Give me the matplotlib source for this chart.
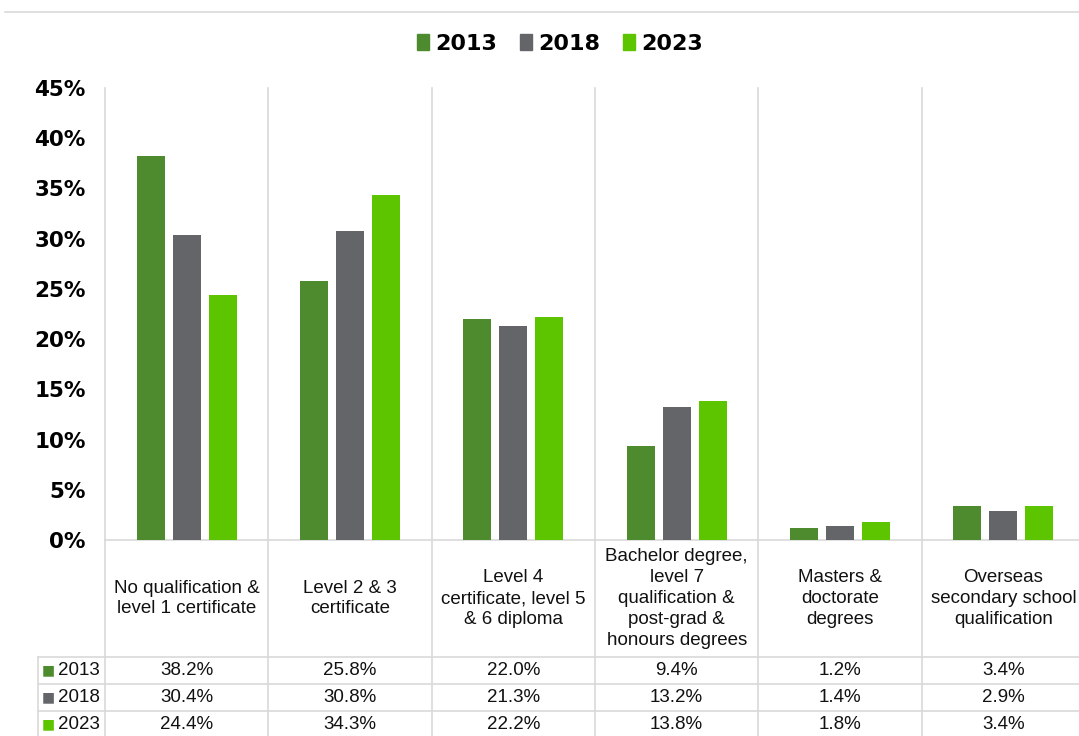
import matplotlib.pyplot as plt
from matplotlib.patches import Patch
from matplotlib.lines import Line2D
import matplotlib.transforms as mtransforms

# data
categories = [
    "No qualification &\nlevel 1 certificate",
    "Level 2 & 3\ncertificate",
    "Level 4\ncertificate, level 5\n& 6 diploma",
    "Bachelor degree,\nlevel 7\nqualification &\npost-grad &\nhonours degrees",
    "Masters &\ndoctorate\ndegrees",
    "Overseas\nsecondary school\nqualification",
]
years = ["2013", "2018", "2023"]
v2013 = [38.2, 25.8, 22.0, 9.4, 1.2, 3.4]
v2018 = [30.4, 30.8, 21.3, 13.2, 1.4, 2.9]
v2023 = [24.4, 34.3, 22.2, 13.8, 1.8, 3.4]
yticks = [0, 5, 10, 15, 20, 25, 30, 35, 40, 45]

colors = ["#4e8b2f", "#636569", "#5dc500"]
grid_c = "#d9d9d9"
narrow = ["Liberation Sans Narrow", "DejaVu Sans Condensed", "DejaVu Sans"]
plain = ["Liberation Sans", "DejaVu Sans"]

fig = plt.figure(figsize=(10.79, 7.36), dpi=100)
# axes: 0% at y=540px, 45% at y=88px, cells 163.4px wide from x=105px
ax = fig.add_axes([105 / 1079, (736 - 540) / 736, 980 / 1079, 452 / 736])

series = [v2013, v2018, v2023]
w = 0.171
step = 0.22
x = list(range(len(categories)))
for k, vals in enumerate(series):
    ax.bar([i + (k - 1) * step for i in x], [v / 100 for v in vals], width=w,
           color=colors[k], zorder=3)

ax.set_xlim(-0.5, 5.5)
ax.set_ylim(0, 0.45)
ax.set_yticks([t / 100 for t in yticks])
ax.set_yticklabels([f"{t}%" for t in yticks], family=narrow, fontweight="bold",
                   fontsize=15.5)
ax.tick_params(axis="y", length=0, pad=14)
ax.set_xticks([])
for s in ["top", "right", "left"]:
    ax.spines[s].set_visible(False)
ax.spines["bottom"].set_color(grid_c)
ax.spines["bottom"].set_linewidth(1.2)

# table geometry in axes-fraction units (pixels / 452)
trans = mtransforms.blended_transform_factory(ax.transData, ax.transAxes)
row_lines = [-117 / 452, -144 / 452, -171 / 452, -198 / 452]
x_left = (38 - 105) / 163.4 - 0.5

# vertical grid lines running through chart, labels and table
for gx in [i - 0.5 for i in range(len(categories) + 1)]:
    ax.plot([gx, gx], [1, row_lines[-1]], color=grid_c, lw=1.2, transform=trans,
            clip_on=False, zorder=1)
ax.plot([x_left, x_left], [row_lines[0], row_lines[-1]], color=grid_c, lw=1.2,
        transform=trans, clip_on=False)
for ry in row_lines[:3]:
    ax.plot([x_left, 5.6], [ry, ry], color=grid_c, lw=1.2, transform=trans,
            clip_on=False)

# category labels
for i, lab in enumerate(categories):
    ax.text(i, row_lines[0] / 2, lab, transform=trans, ha="center", va="center",
            family=plain, fontsize=13.5, linespacing=1.3, color="#111111")

# table rows
for r, (yr, vals) in enumerate(zip(years, series)):
    yc = (row_lines[r] + row_lines[r + 1]) / 2
    ax.text(x_left + 0.025, yc, "\u25a0", transform=trans, ha="left", va="center",
            color=colors[r], fontsize=10, family=["DejaVu Sans"])
    ax.text(-0.53, yc, yr, transform=trans, ha="right", va="center",
            family=plain, fontsize=13.5, color="#111111")
    for i, v in enumerate(vals):
        ax.text(i, yc, f"{v:.1f}%", transform=trans, ha="center", va="center",
                family=plain, fontsize=13.5, color="#111111")

# legend at top
handles = [Patch(color=c, label=y) for c, y in zip(colors, years)]
fig.legend(handles=handles, loc="center", bbox_to_anchor=(560 / 1079, 1 - 44 / 736),
           ncol=3, frameon=False, handlelength=0.55, handleheight=0.75,
           handletextpad=0.3, columnspacing=1.0,
           prop={"family": narrow, "weight": "bold", "size": 16})

# thin rule at the very top
fig.add_artist(Line2D([5 / 1079, 1], [1 - 12 / 736, 1 - 12 / 736], color=grid_c,
                      lw=1.2, transform=fig.transFigure))

fig.savefig("out.png", dpi=100)
